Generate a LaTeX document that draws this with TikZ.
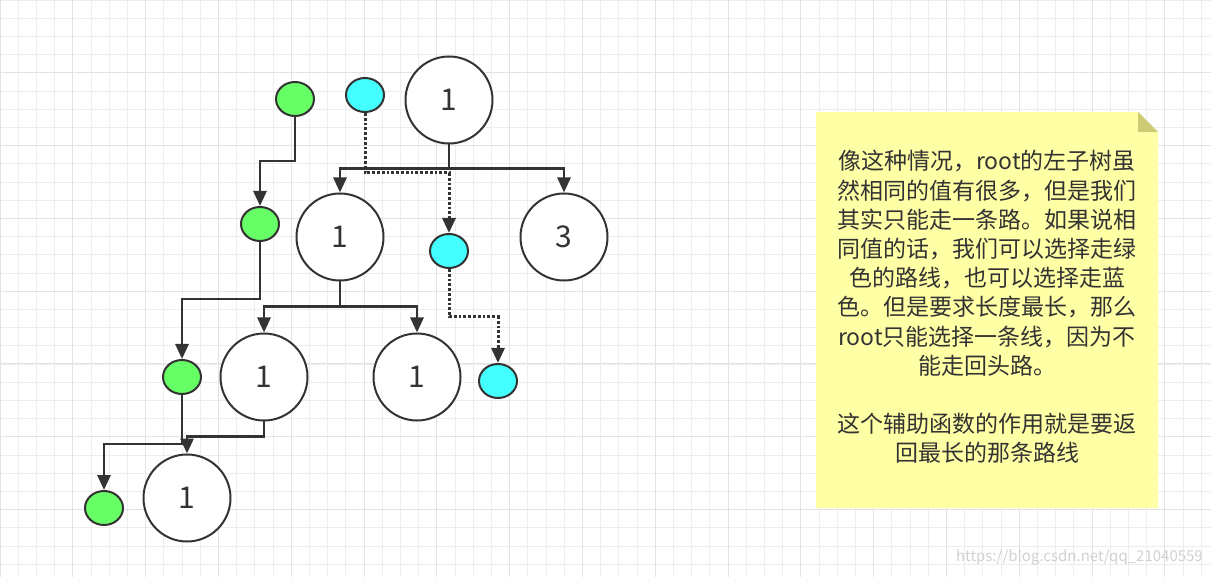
\documentclass[tikz,border=0pt]{standalone}
\usepackage{fontspec}
\setmainfont{Noto Sans CJK SC}
\usetikzlibrary{arrows.meta,shapes.geometric}
\definecolor{ln}{HTML}{333333}
\definecolor{gr}{HTML}{66FF66}
\definecolor{cy}{HTML}{44FFFF}
\definecolor{note}{HTML}{FFFFA6}
\definecolor{fold}{HTML}{CCCC77}
\tikzset{
 big/.style={circle,draw=ln,line width=2pt,fill=white,minimum size=87pt,inner sep=0pt,font=\fontsize{30}{30}\selectfont,text=ln},
 gdot/.style={ellipse,draw=ln,line width=2pt,fill=gr,minimum width=38pt,minimum height=34pt,inner sep=0pt},
 cdot/.style={gdot,fill=cy},
 edge/.style={draw=ln,line width=2.8pt,-{Triangle[length=15pt,width=13pt]}},
 dedge/.style={edge,dotted,line width=3pt},
}
\begin{document}
\begin{tikzpicture}[x=1pt,y=-1pt]
\useasboundingbox (0,0) rectangle (1211,577);
\fill[white] (0,0) rectangle (1211,577);
\foreach \i in {0,...,67}{
  \draw[black!7,line width=0.7pt] (\i*18.2,0) -- (\i*18.2,577);
}
\foreach \i in {0,...,32}{
  \draw[black!7,line width=0.7pt] (0,\i*18.2) -- (1211,\i*18.2);
}
\foreach \i in {0,...,17}{
  \draw[black!11,line width=1pt] (\i*72.8,0) -- (\i*72.8,577);
}
\foreach \i in {0,...,8}{
  \draw[black!11,line width=1pt] (0,\i*72.8) -- (1211,\i*72.8);
}
% tree
\node[big] (r) at (449,100) {1};
\node[big] (a) at (340,237) {1};
\node[big] (b) at (564,237) {3};
\node[big] (c) at (264,377) {1};
\node[big] (d) at (417,377) {1};
\node[big] (e) at (187,498) {1};
\node[gdot] (g1) at (295,99) {};
\node[gdot] (g2) at (260,224) {};
\node[gdot] (g3) at (182,377) {};
\node[gdot] (g4) at (104,508) {};
\node[cdot] (c1) at (365,95) {};
\node[cdot] (c2) at (449,251) {};
\node[cdot] (c3) at (498,381) {};
\draw[edge] (r.south) -- ++(0,24) -| (a.north);
\draw[edge] (r.south) -- ++(0,24) -| (b.north);
\draw[edge] (a.south) -- ++(0,25) -| (c.north);
\draw[edge] (a.south) -- ++(0,25) -| (d.north);
\draw[edge] (c.south) -- ++(0,15) -| (e.north);
\draw[edge] (g1.south) -- ++(0,44) -| (g2.north);
\draw[edge] (g2.south) -- ++(0,57) -| (g3.north);
\draw[edge] (g3.south) -- ++(0,49) -| (g4.north);
\draw[dedge] (c1.south) -- ++(0,60) -| (c2.north);
\draw[dedge] (c2.south) -- ++(0,48) -| (c3.north);
% note
\fill[note] (816,112) -- (1138,112) -- (1158,132) -- (1158,508) -- (816,508) -- cycle;
\fill[fold] (1138,112) -- (1158,132) -- (1138,132) -- cycle;
\node[text=ln,align=center,font=\fontsize{23}{29.2}\selectfont,inner sep=0pt] (t) at (987,307) {像这种情况，root的左子树虽\\然相同的值有很多，但是我们\\其实只能走一条路。如果说相\\同值的话，我们可以选择走绿\\色的路线，也可以选择走蓝\\色。但是要求长度最长，那么\\root只能选择一条线，因为不\\能走回头路。\\[29.2pt]这个辅助函数的作用就是要返\\回最长的那条路线};
\node[text=black!18,font=\fontsize{15}{15}\selectfont,anchor=east,inner sep=0pt] (w) at (1203,557) {https://blog.csdn.net/qq\_21040559};
\end{tikzpicture}
\end{document}
